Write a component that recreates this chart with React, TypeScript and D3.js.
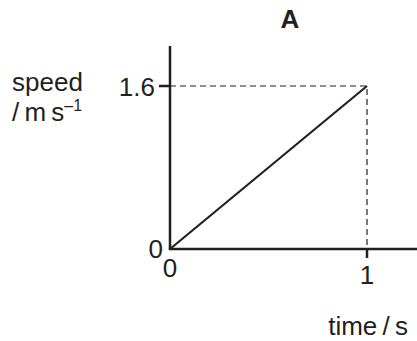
import React from 'react';
import * as d3 from 'd3';

// values
const timeTicks = [0, 1];
const speedTicks = [0, 1.6];
const lineTimes = [0, 1];
const lineSpeeds = [0, 1.6];
const title = 'A';

const W = 417;
const H = 341;
const FONT = '"Liberation Sans", Arial, Helvetica, sans-serif';
const INK = '#231f20';

export default function App() {
  const x = d3.scaleLinear().domain([0, 1]).range([170, 367]);
  const y = d3.scaleLinear().domain([0, 1.6]).range([249, 86]);

  const points: [number, number][] = lineTimes.map((t, i) => [t, lineSpeeds[i]]);
  const line = d3.line<[number, number]>().x(d => x(d[0])).y(d => y(d[1]));

  const tEnd = lineTimes[lineTimes.length - 1];
  const vEnd = lineSpeeds[lineSpeeds.length - 1];

  return (
    <div style={{ position: 'fixed', left: 0, top: 0 }}>
      <svg width={W} height={H} style={{ display: 'block', background: '#fff' }} fontFamily={FONT}>
        {/* title */}
        <text x={290} y={28} textAnchor="middle" fontSize={26} fontWeight="bold" fill={INK}>{title}</text>

        {/* dashed guides to the end point */}
        <path
          d={`M${x(0)},${y(vEnd)}H${x(tEnd)}V${y(0)}`}
          fill="none" stroke={INK} strokeWidth={1.2} strokeDasharray="6,4"
        />

        {/* axes */}
        <line x1={x(0)} y1={y(0)} x2={x(0)} y2={46} stroke={INK} strokeWidth={2.5} />
        <line x1={x(0) - 1.25} y1={y(0)} x2={W} y2={y(0)} stroke={INK} strokeWidth={2.5} />

        {/* y ticks */}
        {speedTicks.filter(v => v > 0).map(v => (
          <line key={v} x1={x(0) - 11} x2={x(0)} y1={y(v)} y2={y(v)} stroke={INK} strokeWidth={2.5} />
        ))}
        {/* x ticks */}
        {timeTicks.filter(t => t > 0).map(t => (
          <line key={t} x1={x(t)} x2={x(t)} y1={y(0)} y2={y(0) + 9} stroke={INK} strokeWidth={2.5} />
        ))}

        {/* data line */}
        <path d={line(points) || ''} fill="none" stroke={INK} strokeWidth={2.2} />

        {/* tick labels */}
        <g fontSize={26} fill={INK}>
          <text x={x(0) - 7} y={y(0) + 9} textAnchor="end">{d3.format('')(speedTicks[0])}</text>
          <text x={x(0) - 15} y={y(1.6) + 9.5} textAnchor="end">{d3.format('.1f')(speedTicks[1])}</text>
          <text x={x(timeTicks[0])} y={y(0) + 28} textAnchor="middle">{timeTicks[0]}</text>
          <text x={x(timeTicks[1])} y={y(0) + 35} textAnchor="middle">{timeTicks[1]}</text>
        </g>

        {/* axis titles */}
        <g fontSize={26} fill={INK}>
          <text x={12} y={91}>speed</text>
          <text x={12} y={121}>
            /{'\u2009'}m{'\u2009'}s<tspan dy={-10} fontSize={16}>–1</tspan>
          </text>
          <text x={408} y={335} textAnchor="end">time{'\u2009'}/{'\u2009'}s</text>
        </g>
      </svg>
    </div>
  );
}
